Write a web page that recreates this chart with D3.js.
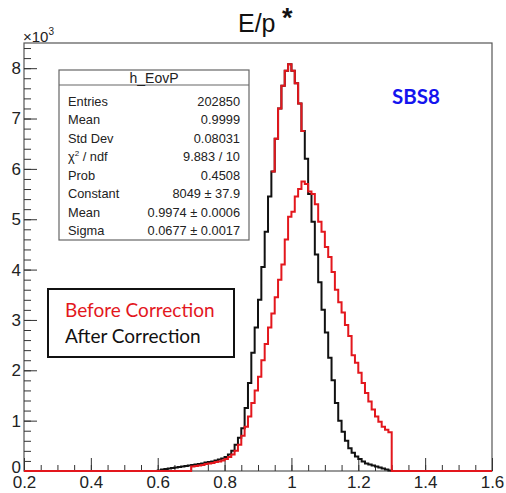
<!DOCTYPE html>
<html>
<head>
<meta charset="utf-8">
<script src="https://cdn.jsdelivr.net/npm/d3@7"></script>
<style>
  html, body { margin: 0; padding: 0; background: #fff; }
  svg { display: block; }
</style>
</head>
<body>
<svg id="chart" width="506" height="493"></svg>
<script>
// ---------------- data ----------------
const binWidth = 0.01;
// "After Correction" histogram (black), first bin low edge and counts
const afterStart = 0.60;
const afterCounts = [
  10, 30, 40, 50, 60, 70, 80, 90, 100, 110,
  120, 130, 140, 150, 170, 180, 190, 210, 230, 250,
  280, 330, 400, 520, 660, 850, 1250, 1750, 2350, 2850,
  3400, 4050, 4750, 5450, 5950, 6600, 7200, 7650, 7950, 8080,
  7950, 7700, 7300, 6750, 6200, 5500, 4950, 4300, 3750, 3200,
  2750, 2250, 1800, 1350, 1000, 780, 600, 450, 360, 290,
  240, 190, 150, 130, 110, 90, 70, 50, 30, 10
];
// "Before Correction" histogram (red)
const beforeStart = 0.70;
const beforeCounts = [
  90, 100, 110, 120, 140, 150, 160, 180, 190, 210,
  240, 280, 330, 400, 520, 700, 880, 1080, 1350, 1600,
  1870, 2200, 2520, 2850, 3130, 3450, 3800, 4100, 4600, 5050,
  5150, 5450, 5600, 5750, 5700, 5550, 5500, 5300, 4950, 4750,
  4450, 4250, 3950, 3600, 3350, 3150, 2900, 2680, 2300, 2150,
  1950, 1750, 1550, 1380, 1220, 1080, 980, 880, 820, 770
];
// Gaussian fit range shown in red over the black histogram
const fitRange = [0.94, 1.04];

const xMajorTicks = [0.2, 0.4, 0.6, 0.8, 1.0, 1.2, 1.4, 1.6];
const xTickLabels = ["0.2", "0.4", "0.6", "0.8", "1", "1.2", "1.4", "1.6"];
const yMajorTicks = [0, 1000, 2000, 3000, 4000, 5000, 6000, 7000, 8000];
const yTickLabels = ["0", "1", "2", "3", "4", "5", "6", "7", "8"];

const statsTitle = "h_EovP";
const statsNames = ["Entries", "Mean", "Std Dev", "χ² / ndf", "Prob", "Constant", "Mean", "Sigma"];
const statsValues = ["202850", "0.9999", "0.08031", "9.883 / 10", "0.4508", "8049 ± 37.9", "0.9974 ± 0.0006", "0.0677 ± 0.0017"];

const legendLabels = ["Before Correction", "After Correction"];
const legendColors = ["#e3171d", "#111111"];

// ---------------- layout ----------------
const svg = d3.select("#chart");
const X0 = 24, X1 = 492, Y0 = 471, Y1 = 43;
const x = d3.scaleLinear().domain([0.2, 1.6]).range([X0, X1]);
const y = d3.scaleLinear().domain([0, 8500]).range([Y0, Y1]);
const red = "#e3171d";
const black = "#111111";
const tickFont = "Liberation Sans, Arial, Helvetica, sans-serif";

// frame
svg.append("rect")
  .attr("x", X0).attr("y", Y1)
  .attr("width", X1 - X0).attr("height", Y0 - Y1)
  .attr("fill", "none").attr("stroke", "#555").attr("stroke-width", 1.2);

// axes: minor ticks
const xMinor = d3.range(0.2, 1.6001, 0.05).map(v => +v.toFixed(2));
svg.append("g").attr("transform", `translate(0,${Y0})`)
  .call(d3.axisBottom(x).tickValues(xMinor).tickSize(-6).tickFormat(""))
  .call(g => g.select(".domain").remove())
  .call(g => g.selectAll("line").attr("stroke", "#333").attr("stroke-width", 1));
svg.append("g").attr("transform", `translate(0,${Y0})`)
  .call(d3.axisBottom(x).tickValues(xMajorTicks).tickSize(-13).tickPadding(5)
    .tickFormat((d, i) => xTickLabels[i]))
  .call(g => g.select(".domain").remove())
  .call(g => g.selectAll("line").attr("stroke", "#333").attr("stroke-width", 1))
  .call(g => g.selectAll("text").attr("fill", "#222").style("font-family", tickFont).style("font-size", "17px"));

const yMinor = d3.range(0, 8401, 200);
svg.append("g").attr("transform", `translate(${X0},0)`)
  .call(d3.axisLeft(y).tickValues(yMinor).tickSize(-7).tickFormat(""))
  .call(g => g.select(".domain").remove())
  .call(g => g.selectAll("line").attr("stroke", "#333").attr("stroke-width", 1));
svg.append("g").attr("transform", `translate(${X0},0)`)
  .call(d3.axisLeft(y).tickValues(yMajorTicks).tickSize(-13).tickPadding(3)
    .tickFormat((d, i) => yTickLabels[i]))
  .call(g => g.select(".domain").remove())
  .call(g => g.selectAll("line").attr("stroke", "#333").attr("stroke-width", 1))
  .call(g => g.selectAll("text").attr("fill", "#222").style("font-family", tickFont).style("font-size", "17px"))
  .call(g => g.selectAll(".tick").filter(d => d === 0).select("text").attr("dy", "0.1em"));

// x10^3 multiplier
const mult = svg.append("text").attr("x", 23).attr("y", 42)
  .style("font-family", tickFont).style("font-size", "15px").attr("fill", "#222");
mult.append("tspan").text("×10");
mult.append("tspan").attr("dy", -7).style("font-size", "10px").text("3");

// title
svg.append("text").attr("x", 238).attr("y", 32)
  .style("font-family", tickFont).style("font-size", "25px").attr("fill", "#111")
  .text("E/p");
svg.append("text").attr("x", 282).attr("y", 27)
  .style("font-family", tickFont).style("font-size", "27px").style("font-weight", "bold").attr("fill", "#111")
  .text("*");

// ---------------- histograms ----------------
function histPoints(start, counts) {
  const pts = [[0.2, 0], [start, 0]];
  counts.forEach((c, i) => pts.push([start + i * binWidth, c]));
  const end = start + counts.length * binWidth;
  pts.push([end, 0]);
  pts.push([1.6, 0]);
  return pts;
}
const stepLine = d3.line().x(d => x(d[0])).y(d => y(d[1])).curve(d3.curveStepAfter);

svg.append("path").datum(histPoints(afterStart, afterCounts))
  .attr("d", stepLine).attr("fill", "none").attr("stroke", black).attr("stroke-width", 2);
svg.append("path").datum(histPoints(beforeStart, beforeCounts))
  .attr("d", stepLine).attr("fill", "none").attr("stroke", red).attr("stroke-width", 2);

// fit overlay (red) over the black histogram in the fit range
const fitPts = [];
afterCounts.forEach((c, i) => {
  const lo = +(afterStart + i * binWidth).toFixed(3);
  if (lo >= fitRange[0] - 1e-9 && lo < fitRange[1] - 1e-9) fitPts.push([lo, c]);
});
const lastFit = fitPts[fitPts.length - 1];
fitPts.push([lastFit[0] + binWidth, lastFit[1]]);
svg.append("path").datum(fitPts)
  .attr("d", stepLine).attr("fill", "none").attr("stroke", red).attr("stroke-width", 2);

// ---------------- stats box ----------------
const sb = { x: 59, y: 70, w: 190, h: 170, head: 15 };
svg.append("rect").attr("x", sb.x).attr("y", sb.y).attr("width", sb.w).attr("height", sb.h)
  .attr("fill", "#fff").attr("stroke", "#666").attr("stroke-width", 1.2);
svg.append("line").attr("x1", sb.x).attr("x2", sb.x + sb.w)
  .attr("y1", sb.y + sb.head).attr("y2", sb.y + sb.head)
  .attr("stroke", "#666").attr("stroke-width", 1.2);
svg.append("text").attr("x", sb.x + sb.w / 2).attr("y", sb.y + 12.5)
  .attr("text-anchor", "middle").style("font-family", tickFont).style("font-size", "14px")
  .attr("fill", "#222").text(statsTitle);
statsNames.forEach((n, i) => {
  const by = 105.5 + i * 18.55;
  const t = svg.append("text").attr("x", sb.x + 9).attr("y", by)
    .style("font-family", tickFont).style("font-size", "12.8px").attr("fill", "#222");
  if (n.startsWith("χ")) {
    t.append("tspan").text("χ");
    t.append("tspan").attr("dy", -5).style("font-size", "8px").text("2");
    t.append("tspan").attr("dy", 5).text(" / ndf");
  } else {
    t.text(n);
  }
  svg.append("text").attr("x", sb.x + sb.w - 9).attr("y", by)
    .attr("text-anchor", "end")
    .style("font-family", tickFont).style("font-size", "12.8px").attr("fill", "#222")
    .text(statsValues[i]);
});

// ---------------- legend ----------------
svg.append("rect").attr("x", 48).attr("y", 289).attr("width", 186).attr("height", 68)
  .attr("fill", "#fff").attr("stroke", "#111").attr("stroke-width", 2);
legendLabels.forEach((l, i) => {
  svg.append("text").attr("x", 65).attr("y", 317 + i * 26)
    .style("font-family", "Lato, 'Open Sans', sans-serif").style("font-size", "19px")
    .attr("fill", legendColors[i]).text(l);
});

// SBS8 label
svg.append("text").attr("x", 392).attr("y", 104)
  .style("font-family", "Lato, 'Open Sans', sans-serif").style("font-size", "20.5px")
  .style("font-weight", "bold").attr("fill", "#1414ee").text("SBS8");
</script>
</body>
</html>
